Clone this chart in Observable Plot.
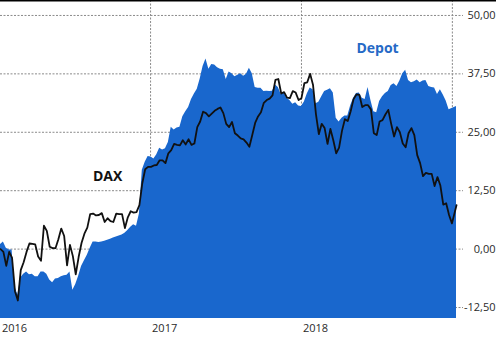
<!DOCTYPE html>
<html><head><meta charset="utf-8">
<script src="https://cdn.jsdelivr.net/npm/d3@7"></script>
<script src="https://cdn.jsdelivr.net/npm/@observablehq/plot@0.6"></script>
<style>
body{margin:0;background:#fff;overflow:hidden}
#chart svg{display:block}
</style>
</head><body><div id="chart"></div>
<script>
const dates = [
"2016-01-04","2016-01-11","2016-01-18","2016-01-25","2016-02-01","2016-02-08","2016-02-15","2016-02-22","2016-02-29","2016-03-07",
"2016-03-14","2016-03-21","2016-03-28","2016-04-04","2016-04-11","2016-04-18","2016-04-25","2016-05-02","2016-05-09","2016-05-16",
"2016-05-23","2016-05-30","2016-06-06","2016-06-13","2016-06-20","2016-06-27","2016-07-04","2016-07-11","2016-07-18","2016-07-25",
"2016-08-01","2016-08-08","2016-08-15","2016-08-22","2016-08-29","2016-09-05","2016-09-12","2016-09-19","2016-09-26","2016-10-03",
"2016-10-10","2016-10-17","2016-10-24","2016-10-31","2016-11-07","2016-11-14","2016-11-21","2016-11-28","2016-12-05","2016-12-12",
"2016-12-19","2016-12-26","2017-01-02","2017-01-09","2017-01-16","2017-01-23","2017-01-30","2017-02-06","2017-02-13","2017-02-20",
"2017-02-27","2017-03-06","2017-03-13","2017-03-20","2017-03-27","2017-04-03","2017-04-10","2017-04-17","2017-04-24","2017-05-01",
"2017-05-08","2017-05-15","2017-05-22","2017-05-29","2017-06-05","2017-06-12","2017-06-19","2017-06-26","2017-07-03","2017-07-10",
"2017-07-17","2017-07-24","2017-07-31","2017-08-07","2017-08-14","2017-08-21","2017-08-28","2017-09-04","2017-09-11","2017-09-18",
"2017-09-25","2017-10-02","2017-10-09","2017-10-16","2017-10-23","2017-10-30","2017-11-06","2017-11-13","2017-11-20","2017-11-27",
"2017-12-04","2017-12-11","2017-12-18","2017-12-25","2018-01-01","2018-01-08","2018-01-15","2018-01-22","2018-01-29","2018-02-05",
"2018-02-12","2018-02-19","2018-02-26","2018-03-05","2018-03-12","2018-03-19","2018-03-26","2018-04-02","2018-04-09","2018-04-16",
"2018-04-23","2018-04-30","2018-05-07","2018-05-14","2018-05-21","2018-05-28","2018-06-04","2018-06-11","2018-06-18","2018-06-25",
"2018-07-02","2018-07-09","2018-07-16","2018-07-23","2018-07-30","2018-08-06","2018-08-13","2018-08-20","2018-08-27","2018-09-03",
"2018-09-10","2018-09-17","2018-09-24","2018-10-01","2018-10-08","2018-10-15","2018-10-22","2018-10-29","2018-11-05","2018-11-12",
"2018-11-19","2018-11-26","2018-12-03","2018-12-10","2018-12-17","2018-12-24","2018-12-31","2019-01-11"
];
const dax = [
0.0, -0.6, -3.6, -0.6, -1.9, -9.0, -11.0, -4.5, -2.8, -0.6,
1.2, 1.1, 1.0, -1.6, -2.5, 5.0, 3.9, 0.5, 0.2, 0.2,
2.1, 4.4, 2.8, -3.5, 0.9, -1.5, -5.4, -1.7, 1.3, 3.3,
4.6, 7.5, 7.6, 7.2, 7.3, 7.7, 5.8, 6.6, 6.0, 5.8,
7.6, 7.5, 7.5, 4.5, 6.8, 8.1, 7.8, 7.9, 9.4, 14.1,
17.1, 17.6, 17.6, 17.9, 18.0, 19.0, 19.0, 18.4, 20.5, 21.2,
22.5, 22.3, 22.2, 23.3, 22.4, 23.5, 22.3, 22.6, 26.1, 27.3,
29.4, 29.1, 28.4, 29.0, 29.6, 30.0, 30.3, 29.1, 26.8, 26.1,
27.2, 24.8, 24.3, 23.7, 23.5, 22.8, 21.9, 24.4, 27.0, 28.4,
29.3, 31.3, 31.9, 32.2, 32.9, 36.2, 36.4, 33.3, 33.6, 32.4,
32.3, 33.8, 33.5, 31.9, 32.3, 35.5, 35.7, 37.5, 35.1, 28.9,
24.6, 26.8, 25.9, 22.5, 25.7, 23.3, 20.5, 21.7, 25.3, 27.8,
27.4, 29.5, 32.1, 33.1, 33.0, 30.4, 30.8, 30.8, 29.9, 24.8,
24.4, 27.3, 27.6, 28.8, 29.8, 26.8, 24.1, 26.1, 25.0, 22.6,
21.8, 24.8, 25.9, 24.4, 20.1, 18.4, 15.6, 16.3, 16.1, 16.1,
13.5, 15.4, 13.6, 9.5, 9.8, 7.3, 5.5, 9.4
];
const depot = [
1.0, 1.5, 0.2, -0.2, -0.2, -8.1, -9.8, -6.2, -5.4, -4.9,
-5.5, -5.4, -5.9, -5.9, -4.9, -4.9, -5.4, -6.6, -7.2, -6.4,
-6.3, -5.9, -5.7, -5.6, -4.9, -8.8, -7.6, -5.8, -3.7, -2.5,
-1.3, 0.2, 1.5, 1.5, 1.4, 1.5, 1.7, 1.9, 2.1, 2.4,
2.6, 2.8, 3.0, 3.4, 4.0, 4.7, 5.2, 4.9, 7.5, 16.9,
18.6, 19.8, 19.7, 19.3, 20.2, 21.6, 21.2, 21.5, 22.8, 26.1,
25.5, 25.9, 26.1, 28.3, 29.4, 30.3, 32.0, 33.2, 34.2, 36.4,
39.1, 40.7, 38.5, 39.5, 39.4, 38.8, 38.5, 38.4, 36.3, 37.9,
37.5, 36.9, 37.2, 37.5, 37.0, 37.4, 38.7, 37.5, 34.6, 34.4,
34.4, 33.7, 33.8, 33.7, 33.8, 35.1, 34.6, 33.1, 33.4, 32.3,
31.8, 31.0, 31.3, 30.6, 30.5, 31.5, 33.2, 34.5, 34.1, 31.1,
31.4, 32.6, 33.7, 34.0, 34.3, 33.4, 28.0, 27.2, 28.0, 28.5,
28.5, 30.7, 32.3, 33.3, 33.4, 32.3, 32.0, 34.6, 31.8, 29.4,
29.2, 31.6, 32.6, 33.3, 33.7, 35.0, 35.4, 34.8, 36.0, 37.5,
38.3, 36.1, 35.6, 35.8, 36.2, 35.6, 36.0, 36.1, 34.8, 34.6,
34.5, 33.1, 34.1, 33.0, 31.7, 29.8, 30.1, 30.5
];
const yTicks = [50, 37.5, 25, 12.5, 0, -12.5];
// first label sits at the start of the data (clamped inside the frame)
const xLabelTicks = ["2016-01-04", "2017-01-01", "2018-01-01"];
const xGridTicks = ["2017-01-01", "2018-01-01", "2019-01-01"];
const seriesNames = ["DAX", "Depot"];
const seriesLabelDates = ["2016-09-19", "2018-07-04"];
const seriesLabelValues = [15.5, 42.9];
const yDomain = [-14.85, 53.2];
const xDomain = ["2016-01-04", "2019-01-11"];

const blue = "#1967cd";
const data = dates.map((d, i) => ({date: new Date(d), dax: dax[i], depot: depot[i]}));
const labels = seriesNames.map((n, i) => ({name: n, date: new Date(seriesLabelDates[i]), value: seriesLabelValues[i]}));
const fmt = d => d.toFixed(2).replace(".", ",");

const chart = Plot.plot({
  width: 496,
  height: 338,
  marginLeft: 0,
  marginRight: 40,
  marginTop: 0,
  marginBottom: 20,
  style: {fontFamily: "'Open Sans', sans-serif", fontSize: "11px", background: "#fff", overflow: "visible"},
  x: {type: "utc", domain: xDomain.map(d => new Date(d))},
  y: {domain: yDomain},
  marks: [
    Plot.gridY(yTicks, {stroke: "#8a8a8a", strokeOpacity: 1, strokeDasharray: "2,1.5", insetRight: -7}),
    Plot.gridX(xGridTicks.map(d => new Date(d)), {stroke: "#8a8a8a", strokeOpacity: 1, strokeDasharray: "2,1.5"}),
    Plot.areaY(data, {x: "date", y1: yDomain[0], y2: "depot", fill: blue}),
    Plot.lineY(data, {x: "date", y: "dax", stroke: "#111", strokeWidth: 1.8}),
    Plot.axisY(yTicks, {anchor: "right", tickSize: 0, tickPadding: 39, textAnchor: "end", tickFormat: fmt, label: null, fill: "#2a2a2a", fontSize: 11}),
    Plot.axisX(xLabelTicks.map(d => new Date(d)), {anchor: "bottom", tickSize: 0, tickPadding: 6, textAnchor: "start", dx: 1.5, tickFormat: d3.utcFormat("%Y"), label: null, fill: "#2a2a2a", fontSize: 11}),
    Plot.text(labels, {x: "date", y: "value", text: "name", fontWeight: 700, fontSize: 14,
      fill: d => d.name === "Depot" ? "#2569c6" : "#111"})
  ]
});
d3.select(chart).append("line")
  .attr("x1", 0).attr("x2", 496).attr("y1", 0.75).attr("y2", 0.75)
  .attr("stroke", "#000").attr("stroke-width", 1.5);
document.getElementById("chart").appendChild(chart);
</script>
</body></html>
